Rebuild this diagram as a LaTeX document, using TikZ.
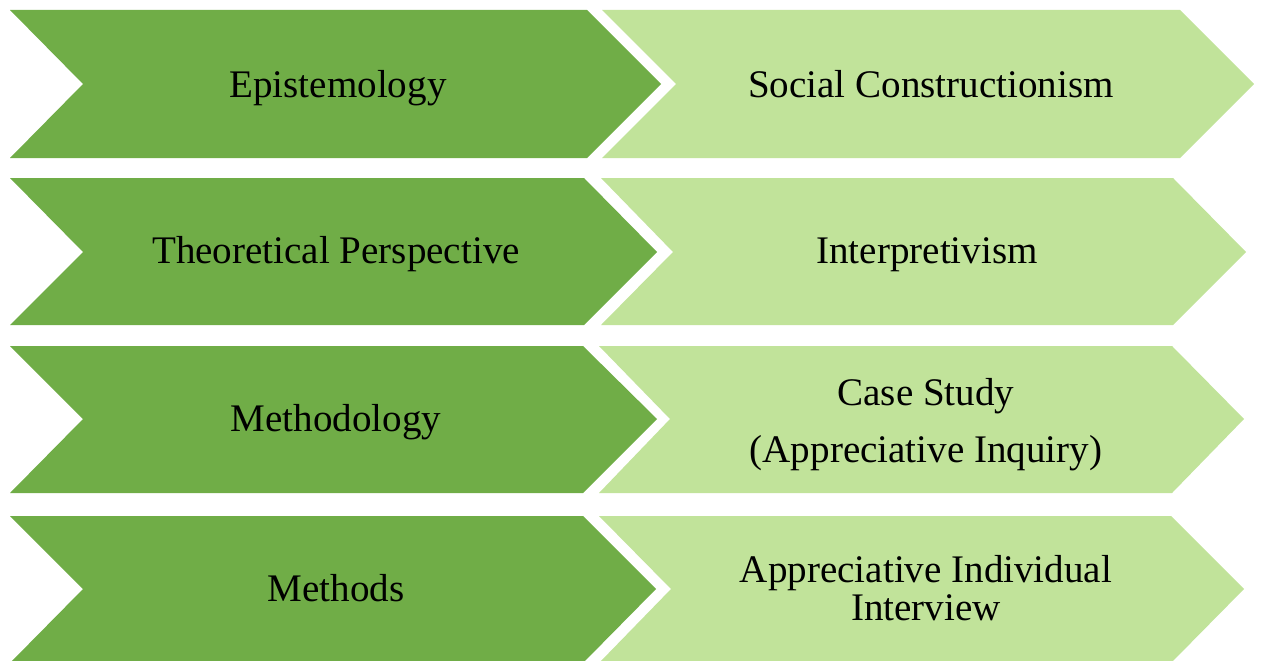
\documentclass[tikz,border=0pt]{standalone}
\usepackage{fontspec}
\setmainfont{Liberation Serif}
\usepackage{tikz}

\definecolor{chevdark}{RGB}{112,173,71}
\definecolor{chevlight}{RGB}{193,227,154}

\tikzset{
  darkchev/.style={fill=chevdark, draw=none},
  lightchev/.style={fill=chevlight, draw=none},
  lbl/.style={anchor=base, inner sep=0.75pt, align=center, text=black,
    font=\fontsize{29.3}{28.5}\selectfont},
}

\begin{document}
\begin{tikzpicture}[x=0.75pt,y=0.75pt,yscale=-1,xscale=1]
\useasboundingbox (0,0) rectangle (1262,660);

%Chevron row 1
\draw [darkchev] (10,10) -- (587,10) -- (661,84) -- (587,158) -- (10,158) -- (83,84) -- cycle ;
\draw [lightchev] (602,10) -- (1180,10) -- (1254,84) -- (1180,158) -- (602,158) -- (676,84) -- cycle ;
%Chevron row 2
\draw [darkchev] (10,178) -- (584,178) -- (657,252) -- (584,325) -- (10,325) -- (83,252) -- cycle ;
\draw [lightchev] (601,178) -- (1173,178) -- (1246,252) -- (1173,325) -- (601,325) -- (673,252) -- cycle ;
%Chevron row 3
\draw [darkchev] (10,346) -- (583,346) -- (657,419) -- (583,493) -- (10,493) -- (83,419) -- cycle ;
\draw [lightchev] (599,346) -- (1172,346) -- (1244,419) -- (1172,493) -- (599,493) -- (670,419) -- cycle ;
%Chevron row 4
\draw [darkchev] (10,516) -- (583,516) -- (656,589) -- (583,663) -- (10,663) -- (83,589) -- cycle ;
\draw [lightchev] (599,516) -- (1171,516) -- (1244,589) -- (1171,663) -- (599,663) -- (671,589) -- cycle ;

% Text Node
\node [lbl] (epis) at (338,97) {Epistemology};
% Text Node
\node [lbl] (socc) at (931,97) {Social Constructionism};
% Text Node
\node [lbl] (theo) at (336,263) {Theoretical Perspective};
% Text Node
\node [lbl] (intp) at (927,263) {Interpretivism};
% Text Node
\node [lbl] (mthy) at (336,431) {Methodology};
% Text Node (anchor on last line)
\node [lbl, font=\fontsize{29.3}{42.75}\selectfont] (case) at (926,462) {Case Study\\(Appreciative Inquiry)};
% Text Node
\node [lbl] (mths) at (336,601) {Methods};
% Text Node (anchor on last line)
\node [lbl] (apin) at (926,620) {Appreciative Individual\\Interview};

\end{tikzpicture}
\end{document}
